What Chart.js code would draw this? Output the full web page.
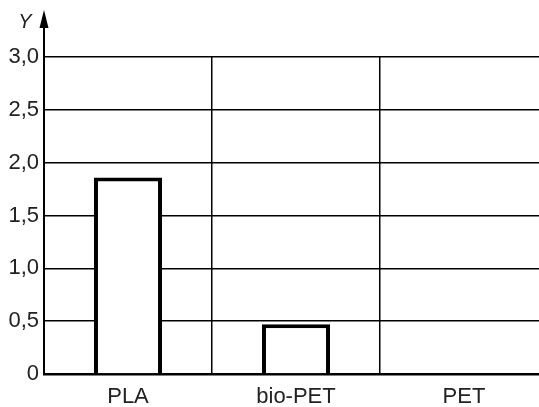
<!DOCTYPE html>
<html>
<head>
<meta charset="utf-8">
<script src="https://cdn.jsdelivr.net/npm/chart.js@4/dist/chart.umd.min.js"></script>
<style>
html,body{margin:0;padding:0;background:#fff;overflow:hidden;width:539px;height:407px;}
#wrap{width:548px;height:407px;}
</style>
</head>
<body>
<div id="wrap"><canvas id="c" width="548" height="407"></canvas></div>
<script>
const categories = ['PLA', 'bio-PET', 'PET'];
const values = [1.86, 0.47, 0];
const yTicks = [0, 0.5, 1.0, 1.5, 2.0, 2.5, 3.0];
const axisLabel = 'Y';

const arrowPlugin = {
  id: 'arrowPlugin',
  afterDraw(chart) {
    const ctx = chart.ctx;
    const x = chart.chartArea.left;
    const top = chart.chartArea.top;
    ctx.save();
    ctx.strokeStyle = '#000';
    ctx.lineWidth = 2;
    ctx.beginPath();
    ctx.moveTo(x, top);
    ctx.lineTo(x, 24);
    ctx.stroke();
    ctx.fillStyle = '#000';
    ctx.beginPath();
    ctx.moveTo(x, 10);
    ctx.lineTo(x - 4.5, 28);
    ctx.lineTo(x + 4.5, 28);
    ctx.closePath();
    ctx.fill();
    ctx.font = 'italic 20px "Liberation Sans", Arial, sans-serif';
    ctx.fillStyle = '#222';
    ctx.textAlign = 'center';
    ctx.textBaseline = 'alphabetic';
    ctx.fillText(axisLabel, 25, 28);
    ctx.restore();
  }
};

new Chart(document.getElementById('c'), {
  type: 'bar',
  data: {
    labels: categories,
    datasets: [{
      data: values,
      backgroundColor: '#fff',
      borderColor: '#000',
      borderWidth: 4,
      borderSkipped: 'start',
      categoryPercentage: 0.81,
      barPercentage: 0.5
    }]
  },
  options: {
    responsive: false,
    animation: false,
    devicePixelRatio: 1,
    layout: { padding: { top: 57, right: 0, left: 0, bottom: 0 } },
    plugins: { legend: { display: false }, tooltip: { enabled: false } },
    scales: {
      x: {
        grid: { display: true, offset: true, color: '#000', lineWidth: 1.5, drawTicks: false },
        border: { display: true, color: '#000', width: 2.5 },
        ticks: { color: '#222', font: { size: 22, family: '"Liberation Sans", Arial, sans-serif' }, padding: 10 },
        afterFit(scale) { scale.height = 33; }
      },
      y: {
        min: 0, max: 3,
        afterBuildTicks(scale) { scale.ticks = yTicks.map(v => ({ value: v })); },
        grid: { color: '#000', lineWidth: 1.5, drawTicks: false },
        border: { display: true, color: '#000', width: 2 },
        ticks: {
          color: '#222',
          font: { size: 22, family: '"Liberation Sans", Arial, sans-serif' },
          padding: 5,
          callback: v => v === 0 ? '0' : v.toFixed(1).replace('.', ',')
        },
        afterFit(scale) { scale.width = 44; }
      }
    }
  },
  plugins: [arrowPlugin]
});
</script>
</body>
</html>
